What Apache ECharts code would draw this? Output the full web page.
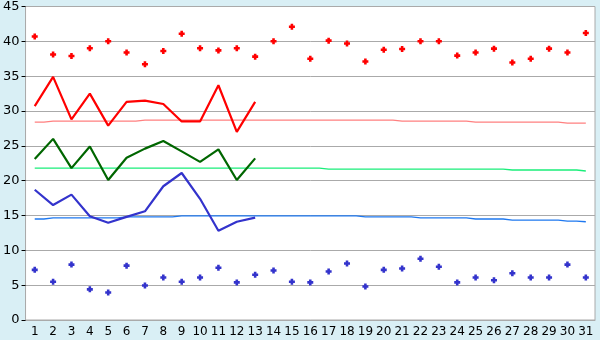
<!DOCTYPE html>
<html><head><meta charset="utf-8">
<script src="https://cdn.jsdelivr.net/npm/echarts@6/dist/echarts.min.js"></script>
<style>html,body{margin:0;padding:0;background:#d9eff5}#c{width:600px;height:340px}</style>
</head><body><div id="c"></div>
<script>
const days = Array.from({length:31},(_,i)=>String(i+1));
const yTicks = [0,5,10,15,20,25,30,35,40,45];
const highPoints = [40.7,38.1,37.9,39.0,40.0,38.4,36.7,38.6,41.1,39.0,38.7,39.0,37.8,40.0,42.1,37.5,40.1,39.7,37.1,38.8,38.9,40.0,40.0,37.95,38.4,38.95,36.95,37.5,38.95,38.4,41.2];
const lowPoints = [7.2,5.5,7.95,4.4,3.95,7.8,4.95,6.1,5.5,6.1,7.5,5.4,6.5,7.1,5.5,5.4,6.95,8.1,4.8,7.2,7.4,8.8,7.65,5.4,6.1,5.7,6.7,6.1,6.1,7.95,6.1];
const maxLine = [30.7,34.9,28.8,32.5,27.9,31.3,31.5,31.0,28.5,28.5,33.7,27.0,31.3];
const meanLine = [23.1,26.0,21.8,24.9,20.1,23.3,24.6,25.7,24.2,22.7,24.5,20.1,23.2];
const minLine = [18.7,16.5,18.0,14.9,13.95,14.8,15.6,19.2,21.1,17.4,12.8,14.1,14.7];
const normMax = [28.4,28.55,28.55,28.55,28.55,28.55,28.7,28.7,28.7,28.7,28.7,28.7,28.7,28.7,28.7,28.7,28.7,28.7,28.7,28.7,28.55,28.55,28.55,28.55,28.4,28.4,28.4,28.4,28.4,28.25,28.25];
const normMean = [21.81,21.81,21.81,21.81,21.81,21.81,21.81,21.81,21.81,21.81,21.81,21.81,21.81,21.81,21.81,21.81,21.67,21.67,21.67,21.67,21.67,21.67,21.67,21.67,21.67,21.67,21.53,21.53,21.53,21.53,21.39];
const normMin = [14.5,14.65,14.65,14.65,14.65,14.8,14.8,14.8,14.95,14.95,14.95,14.95,14.95,14.95,14.95,14.95,14.95,14.95,14.8,14.8,14.8,14.65,14.65,14.65,14.5,14.5,14.35,14.35,14.35,14.2,14.1];

const marker = 'path://M2,0H5V2H7V5H5V7H2V5H0V2H2Z';
const chart = echarts.init(document.getElementById('c'));
const font = 'DejaVu Sans, Verdana, sans-serif';
function thin(data,color){return {type:'line',data,step:'middle',symbol:'none',lineStyle:{color,width:1.3},z:2,animation:false};}
function thick(data,color){return {type:'line',data,symbol:'none',lineStyle:{color,width:2.2},z:3,animation:false};}
function pts(data,color){return {type:'scatter',data,symbol:marker,symbolSize:6,itemStyle:{color,opacity:1},z:4,animation:false};}
chart.setOption({
  backgroundColor:'#d9eff5',
  animation:false,
  grid:{left:20,right:5,top:5,bottom:20,show:true,backgroundColor:'#ffffff',borderColor:'#aaaaaa',borderWidth:1},
  xAxis:{type:'category',data:days,boundaryGap:true,
    axisLine:{lineStyle:{color:'#aaaaaa',width:1}},
    axisTick:{alignWithLabel:true,length:5,lineStyle:{color:'#000'}},
    axisLabel:{color:'#000',fontSize:12,fontFamily:font,margin:6,interval:0},
    splitLine:{show:false}},
  yAxis:{type:'value',min:yTicks[0],max:yTicks[yTicks.length-1],interval:5,
    axisLine:{show:true,lineStyle:{color:'#aaaaaa',width:1}},
    axisTick:{show:true,length:4,lineStyle:{color:'#000'}},
    axisLabel:{color:'#000',fontSize:13,fontFamily:font,margin:6},
    splitLine:{lineStyle:{color:'#aaaaaa',width:1}}},
  series:[
    thin(normMax,'#ff8080'),
    thin(normMean,'#1aee7a'),
    thin(normMin,'#1e78f0'),
    thick(maxLine,'#ff0000'),
    thick(meanLine,'#006600'),
    thick(minLine,'#3333cc'),
    pts(highPoints,'#ff0000'),
    pts(lowPoints,'#3333cc')
  ]
});
</script></body></html>
